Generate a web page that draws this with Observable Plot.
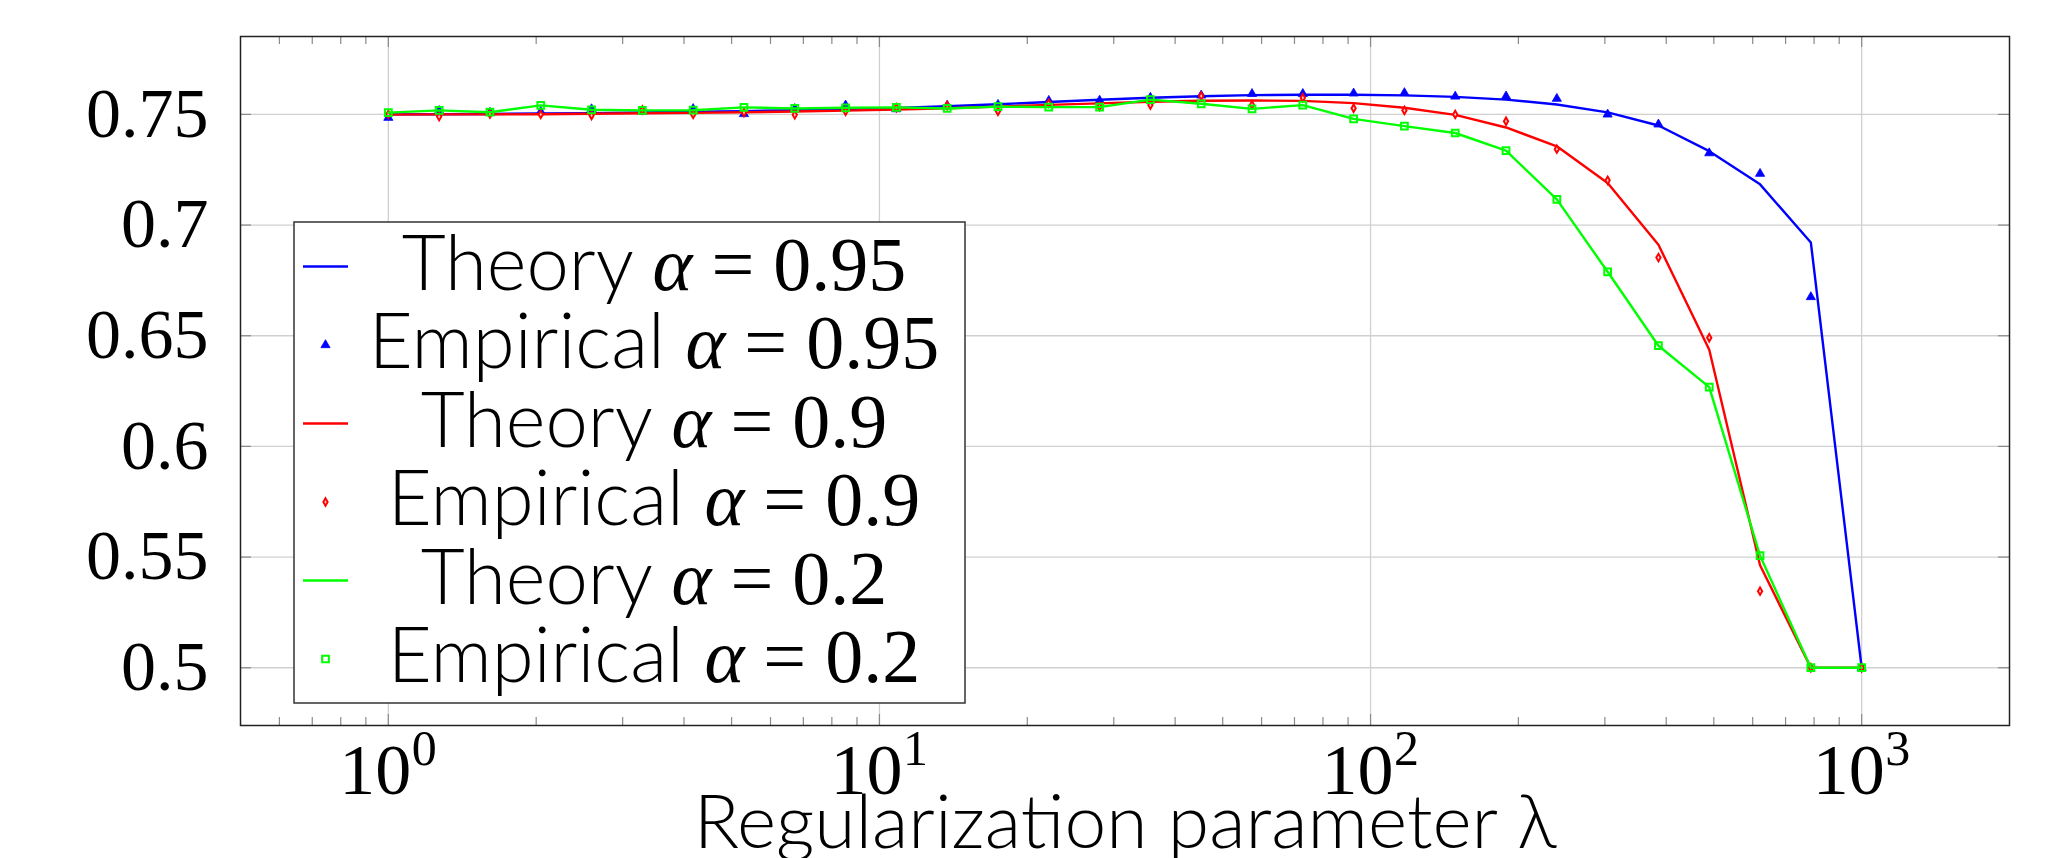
<!DOCTYPE html>
<html><head><meta charset="utf-8">
<script src="https://cdn.jsdelivr.net/npm/d3@7"></script>
<script src="https://cdn.jsdelivr.net/npm/@observablehq/plot@0.6"></script>
<style>html,body{margin:0;padding:0;background:#fff;overflow:hidden}</style>
</head><body><div id="chart"></div>
<script>
// Regularization parameter values (log-spaced, 30 points)
const lambdas = [1, 1.269, 1.6103, 2.0434, 2.5929, 3.2903, 4.1753, 5.2983, 6.7234, 8.5317,
  10.826, 13.738, 17.433, 22.122, 28.072, 35.622, 45.204, 57.362, 72.79, 92.367,
  117.21, 148.74, 188.74, 239.5, 303.92, 385.66, 489.39, 621.02, 788.05, 1000];

const theory095 = [0.7500, 0.7501, 0.7502, 0.7504, 0.7506, 0.7509, 0.7512, 0.7515, 0.7519, 0.7524,
  0.7529, 0.7537, 0.7546, 0.7556, 0.7566, 0.7575, 0.7582, 0.7587, 0.7589, 0.7589,
  0.7586, 0.7579, 0.7567, 0.7545, 0.7509, 0.7450, 0.7334, 0.7184, 0.6921, 0.5000];
const empirical095 = [0.7485, 0.7516, 0.7508, 0.7512, 0.7524, 0.7514, 0.7525, 0.7502, 0.7525, 0.7541,
  0.7524, 0.7540, 0.7544, 0.7562, 0.7563, 0.7576, 0.7586, 0.7593, 0.7593, 0.7595,
  0.7597, 0.7581, 0.7582, 0.7571, 0.7500, 0.7455, 0.7325, 0.7232, 0.6675, 0.5000];
const theory09 = [0.7499, 0.7500, 0.7500, 0.7501, 0.7503, 0.7505, 0.7507, 0.7510, 0.7513, 0.7517,
  0.7522, 0.7528, 0.7535, 0.7543, 0.7550, 0.7557, 0.7562, 0.7563, 0.7561, 0.7551,
  0.7530, 0.7498, 0.7441, 0.7356, 0.7190, 0.6911, 0.6437, 0.5463, 0.5000, 0.5000];
const empirical09 = [0.7500, 0.7490, 0.7502, 0.7500, 0.7495, 0.7520, 0.7500, 0.7508, 0.7498, 0.7514,
  0.7530, 0.7540, 0.7514, 0.7550, 0.7535, 0.7542, 0.7583, 0.7543, 0.7575, 0.7528,
  0.7518, 0.7500, 0.7469, 0.7343, 0.7202, 0.6853, 0.6491, 0.5346, 0.5000, 0.5000];
const theory02 = [0.7508, 0.7518, 0.7510, 0.7541, 0.7521, 0.7518, 0.7519, 0.7532, 0.7527, 0.7530,
  0.7532, 0.7527, 0.7535, 0.7533, 0.7533, 0.7567, 0.7548, 0.7525, 0.7542, 0.7480,
  0.7447, 0.7416, 0.7336, 0.7116, 0.6789, 0.6455, 0.6268, 0.5506, 0.5000, 0.5000];
const empirical02 = [0.7508, 0.7518, 0.7510, 0.7541, 0.7521, 0.7518, 0.7519, 0.7532, 0.7527, 0.7530,
  0.7532, 0.7527, 0.7535, 0.7533, 0.7533, 0.7567, 0.7548, 0.7525, 0.7542, 0.7480,
  0.7447, 0.7416, 0.7336, 0.7116, 0.6789, 0.6455, 0.6268, 0.5506, 0.5000, 0.5000];

const yTicks = [0.5, 0.55, 0.6, 0.65, 0.7, 0.75];
const xMajor = [1, 10, 100, 1000];
const xExponents = ["0", "1", "2", "3"];
const xMinor = [0.6, 0.7, 0.8, 0.9, 2, 3, 4, 5, 6, 7, 8, 9, 20, 30, 40, 50, 60, 70, 80, 90,
  200, 300, 400, 500, 600, 700, 800, 900];
const xLabel = "Regularization parameter λ";
const legendNames = ["Theory", "Empirical", "Theory", "Empirical", "Theory", "Empirical"];
const legendAlphas = ["0.95", "0.95", "0.9", "0.9", "0.2", "0.2"];

const BLUE = "#0000ff", RED = "#ff0000", GREEN = "#00ff00";
const serif = "'Liberation Serif', 'DejaVu Serif', serif";
const sans = "Lato, 'Open Sans', sans-serif";

const rows = (ys) => lambdas.map((x, i) => ({x, y: ys[i]}));

const W = 2057, H = 858, mL = 240, mR = 48, mT = 36, mB = 133;
const plotW = W - mL - mR, plotH = H - mT - mB;
const gridStyle = {stroke: "#d0d0d0", strokeOpacity: 1, strokeWidth: 1.3};
const tickStyle = {stroke: "#8a8a8a", strokeWidth: 1.2};

const chart = Plot.plot({
  width: W, height: H,
  marginLeft: mL, marginRight: mR, marginTop: mT, marginBottom: mB,
  style: {background: "#fff", fontFamily: serif, overflow: "visible"},
  x: {type: "log", domain: [0.5, 2000]},
  y: {domain: [0.4739, 0.7852]},
  marks: [
    Plot.gridX(xMajor, gridStyle),
    Plot.gridY(yTicks, gridStyle),
    // inward minor ticks (bottom & top)
    Plot.ruleX(xMinor, {x: d => d, insetTop: plotH - 8, ...tickStyle}),
    Plot.ruleX(xMinor, {x: d => d, insetBottom: plotH - 8, ...tickStyle}),
    // inward major ticks
    Plot.ruleX(xMajor, {x: d => d, insetTop: plotH - 11, ...tickStyle}),
    Plot.ruleX(xMajor, {x: d => d, insetBottom: plotH - 11, ...tickStyle}),
    Plot.ruleY(yTicks, {y: d => d, insetRight: plotW - 11, ...tickStyle}),
    Plot.ruleY(yTicks, {y: d => d, insetLeft: plotW - 11, ...tickStyle}),
    Plot.frame({stroke: "#222", strokeWidth: 1.5}),
    // tick labels
    Plot.axisY(yTicks, {anchor: "left", tickSize: 0, tickPadding: 32, label: null,
      tickFormat: d => String(+d.toFixed(2)), fontSize: 70, fontFamily: serif, fill: "#000"}),
    Plot.axisX(xMajor, {anchor: "bottom", tickSize: 0, tickPadding: 17, label: null,
      tickFormat: () => "10", fontSize: 72, fontFamily: serif, fill: "#000", dx: -13}),
    Plot.text(xMajor, {x: d => d, text: (d, i) => xExponents[i], frameAnchor: "bottom",
      lineAnchor: "top", dy: 4, dx: 36, fontSize: 50, fontFamily: serif, fill: "#000"}),
    Plot.text([xLabel], {frameAnchor: "bottom", lineAnchor: "bottom", dy: 122,
      fontSize: 75, fontFamily: sans, fontWeight: 300, fill: "#000"}),
    // series
    Plot.line(rows(theory095), {x: "x", y: "y", stroke: BLUE, strokeWidth: 2.4}),
    Plot.dot(rows(empirical095), {x: "x", y: "y", symbol: "triangle", r: 3.4, fill: BLUE, stroke: BLUE, strokeWidth: 0.8}),
    Plot.line(rows(theory09), {x: "x", y: "y", stroke: RED, strokeWidth: 2.4}),
    Plot.dot(rows(empirical09), {x: "x", y: "y", symbol: "diamond", r: 2.3, fill: "#ffc8c8", stroke: RED, strokeWidth: 1.9}),
    Plot.line(rows(theory02), {x: "x", y: "y", stroke: GREEN, strokeWidth: 2.4}),
    Plot.dot(rows(empirical02), {x: "x", y: "y", symbol: "square", r: 3.8, fill: "none", stroke: GREEN, strokeWidth: 2})
  ]
});

document.getElementById("chart").appendChild(chart);

// Legend box (inside plot area)
const svg = d3.select(chart);
const lg = svg.append("g").attr("class", "legend");
const lx = 294, ly = 222, lw = 671, lh = 481;
lg.append("rect").attr("x", lx).attr("y", ly).attr("width", lw).attr("height", lh)
  .attr("fill", "#fff").attr("stroke", "#333").attr("stroke-width", 1.5);
const rowH = 78.5, row0 = 266.5;
const colors = [BLUE, BLUE, RED, RED, GREEN, GREEN];
const symbols = [null, d3.symbolTriangle, null, d3.symbolDiamond, null, d3.symbolSquare];
legendNames.forEach((name, i) => {
  const cy = row0 + i * rowH;
  if (i % 2 === 0) {
    lg.append("line").attr("x1", 303).attr("x2", 348).attr("y1", cy).attr("y2", cy)
      .attr("stroke", colors[i]).attr("stroke-width", 2.4);
  } else {
    const sz = i === 1 ? Math.PI * 3.4 * 3.4 : i === 3 ? Math.PI * 2.3 * 2.3 : Math.PI * 3.8 * 3.8;
    const p = lg.append("path").attr("d", d3.symbol(symbols[i], sz)())
      .attr("transform", `translate(325.5,${cy})`);
    if (i === 1) p.attr("fill", BLUE).attr("stroke", BLUE).attr("stroke-width", 0.8);
    else if (i === 3) p.attr("fill", "#ffc8c8").attr("stroke", RED).attr("stroke-width", 1.9);
    else p.attr("fill", "none").attr("stroke", GREEN).attr("stroke-width", 2);
  }
  const t = lg.append("text").attr("x", 654).attr("y", cy + 23).attr("text-anchor", "middle")
    .attr("font-size", 76).attr("fill", "#000");
  t.append("tspan").attr("font-family", sans).attr("font-weight", 300).text(name + " ");
  t.append("tspan").attr("font-family", serif).attr("font-style", "italic").text("α");
  t.append("tspan").attr("font-family", serif).text(" = " + legendAlphas[i]);
});
</script>
</body></html>
